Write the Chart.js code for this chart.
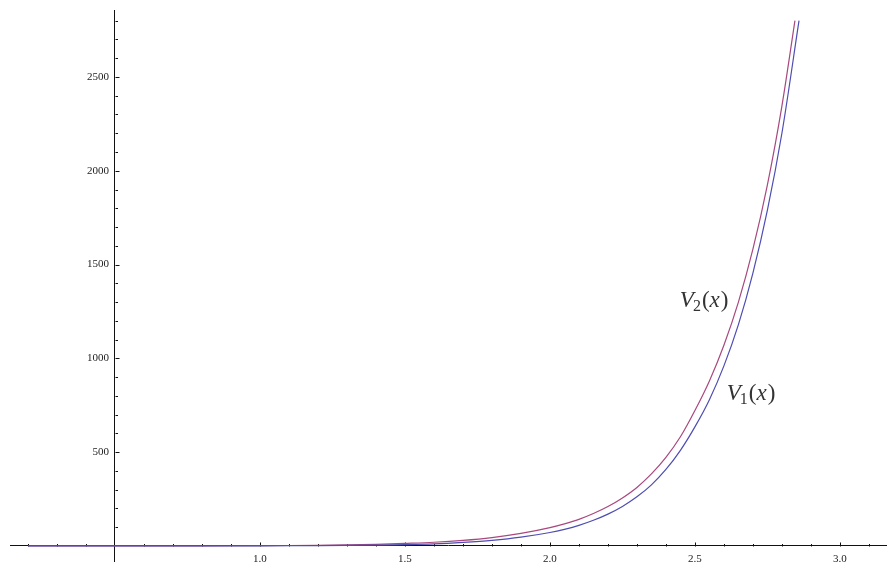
<!DOCTYPE html>
<html>
<head>
<meta charset="utf-8">
<script src="https://cdn.jsdelivr.net/npm/chart.js@4/dist/chart.umd.min.js"></script>
<style>
  html, body { margin: 0; padding: 0; background: #ffffff; }
  #wrap { width: 888px; height: 563px; }
</style>
</head>
<body>
<div id="wrap"><canvas id="plot" width="888" height="563"></canvas></div>
<script>
// Sample points of the two potentials
const v2X = [0.2, 0.3, 0.4, 0.5, 0.6, 0.7, 0.8, 0.9, 1.0, 1.1, 1.2, 1.3, 1.4, 1.5, 1.6, 1.7, 1.8, 1.9,
             2.0, 2.05, 2.1, 2.15, 2.2, 2.25, 2.3, 2.35, 2.4, 2.45, 2.5, 2.55, 2.6, 2.65, 2.7, 2.75, 2.8, 2.845];
const v2Values = [0.1, 0.1, 0.2, 0.2, 0.4, 0.5, 0.8, 1.2, 1.8, 2.7, 4, 6, 9, 14, 20, 30, 45, 67,
                  98, 118, 142, 173, 210, 256, 312, 384, 472, 582, 722, 880, 1070, 1300, 1582, 1925, 2345, 2800];

const v1X = [0.2, 0.3, 0.4, 0.5, 0.6, 0.7, 0.8, 0.9, 1.0, 1.1, 1.2, 1.3, 1.4, 1.5, 1.6, 1.7, 1.8, 1.9,
             2.0, 2.05, 2.1, 2.15, 2.2, 2.25, 2.3, 2.35, 2.4, 2.45, 2.5, 2.55, 2.6, 2.65, 2.7, 2.75, 2.8, 2.859];
const v1Values = [0, 0, 0.1, 0.1, 0.2, 0.3, 0.4, 0.6, 0.9, 1.4, 2.1, 3.2, 4.8, 7, 11, 19, 30, 47,
                  72, 89, 110, 137, 170, 211, 262, 326, 408, 510, 635, 780, 960, 1180, 1455, 1790, 2200, 2800];

// Axis tick labels (unlabelled ticks are minor ticks)
const xTickLabels = ['1.0', '1.5', '2.0', '2.5', '3.0'];
const yTickLabels = ['500', '1000', '1500', '2000', '2500'];

// Where the two axes cross
const axisCross = { x: 0.5, y: 0 };

const toPoints = (xsArr, ysArr) => xsArr.map((x, i) => ({ x: x, y: ysArr[i] }));

// Curve labels placed in data coordinates next to each curve
const curveLabels = [
  { name: 'V', sub: '2', arg: 'x', at: { x: 2.448, y: 1274 } },
  { name: 'V', sub: '1', arg: 'x', at: { x: 2.610, y: 778 } }
];

// Gap between the vertical axis and its tick labels
const yLabelGap = 6;

// Mathematica-style inward tick marks along both axes,
// and a small gap between the vertical axis and its labels
const axisTicks = {
  id: 'axisTicks',
  beforeDraw(chart) {
    const ys = chart.scales.y;
    const items = ys.getLabelItems(chart.chartArea);
    items.forEach(it => {
      if (!it._shifted) {
        it.options.translation[0] -= yLabelGap;
        it._shifted = true;
      }
    });
  },
  beforeDatasetsDraw(chart) {
    const { ctx, scales } = chart;
    const xs = scales.x, ys = scales.y;
    const x0 = Math.round(xs.getPixelForValue(axisCross.x)) + 0.5;
    const y0 = Math.round(ys.getPixelForValue(axisCross.y)) + 0.5;
    ctx.save();
    ctx.strokeStyle = '#111';
    ctx.lineWidth = 1;
    ctx.beginPath();
    xs.ticks.forEach(t => {
      const v = t.value;
      if (Math.abs(v - axisCross.x) < 1e-6) return;
      const major = xTickLabels.includes(v.toFixed(1));
      const len = major ? 4 : 2.5;
      const px = Math.round(xs.getPixelForValue(v)) + 0.5;
      ctx.moveTo(px, y0);
      ctx.lineTo(px, y0 - len);
    });
    ys.ticks.forEach(t => {
      const v = t.value;
      if (Math.abs(v - axisCross.y) < 1e-6) return;
      const major = yTickLabels.includes(String(Math.round(v)));
      const len = major ? 4 : 2.5;
      const py = Math.round(ys.getPixelForValue(v)) + 0.5;
      ctx.moveTo(x0, py);
      ctx.lineTo(x0 + len, py);
    });
    ctx.stroke();
    ctx.restore();
  }
};

// Draws "V_n(x)" in traditional math typesetting
const curveText = {
  id: 'curveText',
  afterDatasetsDraw(chart) {
    const { ctx, scales } = chart;
    ctx.save();
    ctx.fillStyle = '#333';
    ctx.textBaseline = 'alphabetic';
    ctx.textAlign = 'left';
    const size = 23;
    curveLabels.forEach(l => {
      let px = scales.x.getPixelForValue(l.at.x);
      const py = scales.y.getPixelForValue(l.at.y);
      ctx.font = 'italic ' + size + 'px "Liberation Serif"';
      ctx.fillText(l.name, px, py);
      px += ctx.measureText(l.name).width - 1;
      ctx.font = Math.round(size * 0.68) + 'px "Liberation Serif"';
      ctx.fillText(l.sub, px, py + 4);
      px += ctx.measureText(l.sub).width + 1;
      ctx.font = size + 'px "Liberation Serif"';
      ctx.fillText('(', px, py);
      px += ctx.measureText('(').width;
      ctx.font = 'italic ' + size + 'px "Liberation Serif"';
      ctx.fillText(l.arg, px, py);
      px += ctx.measureText(l.arg).width + 1;
      ctx.font = size + 'px "Liberation Serif"';
      ctx.fillText(')', px, py);
    });
    ctx.restore();
  }
};

// Axes crossing inside the plot should not reserve margin space
const noEdgePadding = (scale) => {
  scale.paddingTop = 0;
  scale.paddingBottom = 0;
  scale.paddingLeft = 0;
  scale.paddingRight = 0;
};

new Chart(document.getElementById('plot'), {
  type: 'line',
  data: {
    datasets: [
      {
        label: 'V1(x)',
        data: toPoints(v1X, v1Values),
        borderColor: '#4d4db3',
        borderWidth: 1.2,
        pointRadius: 0,
        fill: false,
        cubicInterpolationMode: 'monotone'
      },
      {
        label: 'V2(x)',
        data: toPoints(v2X, v2Values),
        borderColor: '#a8487e',
        borderWidth: 1.2,
        pointRadius: 0,
        fill: false,
        cubicInterpolationMode: 'monotone'
      }
    ]
  },
  options: {
    responsive: false,
    animation: false,
    layout: { padding: { left: 10, top: 10, right: 2, bottom: 2 } },
    plugins: {
      legend: { display: false },
      tooltip: { enabled: false }
    },
    scales: {
      x: {
        type: 'linear',
        min: 0.138,
        max: 3.159,
        position: { y: axisCross.y },
        afterFit: noEdgePadding,
        grid: { display: false, drawTicks: false },
        border: { display: true, color: '#111', width: 1 },
        ticks: {
          stepSize: 0.1,
          autoSkip: false,
          includeBounds: false,
          maxRotation: 0,
          padding: 7,
          color: '#222',
          font: { family: 'Liberation Serif', size: 11 },
          callback: (v) => {
            const s = Number(v).toFixed(1);
            return xTickLabels.includes(s) ? s : '';
          }
        }
      },
      y: {
        type: 'linear',
        min: -80,
        max: 2857,
        position: { x: axisCross.x },
        afterFit: noEdgePadding,
        grid: { display: false, drawTicks: false },
        border: { display: true, color: '#111', width: 1 },
        ticks: {
          stepSize: 100,
          autoSkip: false,
          includeBounds: false,
          padding: 0,
          color: '#222',
          font: { family: 'Liberation Serif', size: 11 },
          callback: (v) => {
            const s = String(Math.round(v));
            return yTickLabels.includes(s) ? s : '';
          }
        }
      }
    }
  },
  plugins: [axisTicks, curveText]
});
</script>
</body>
</html>
